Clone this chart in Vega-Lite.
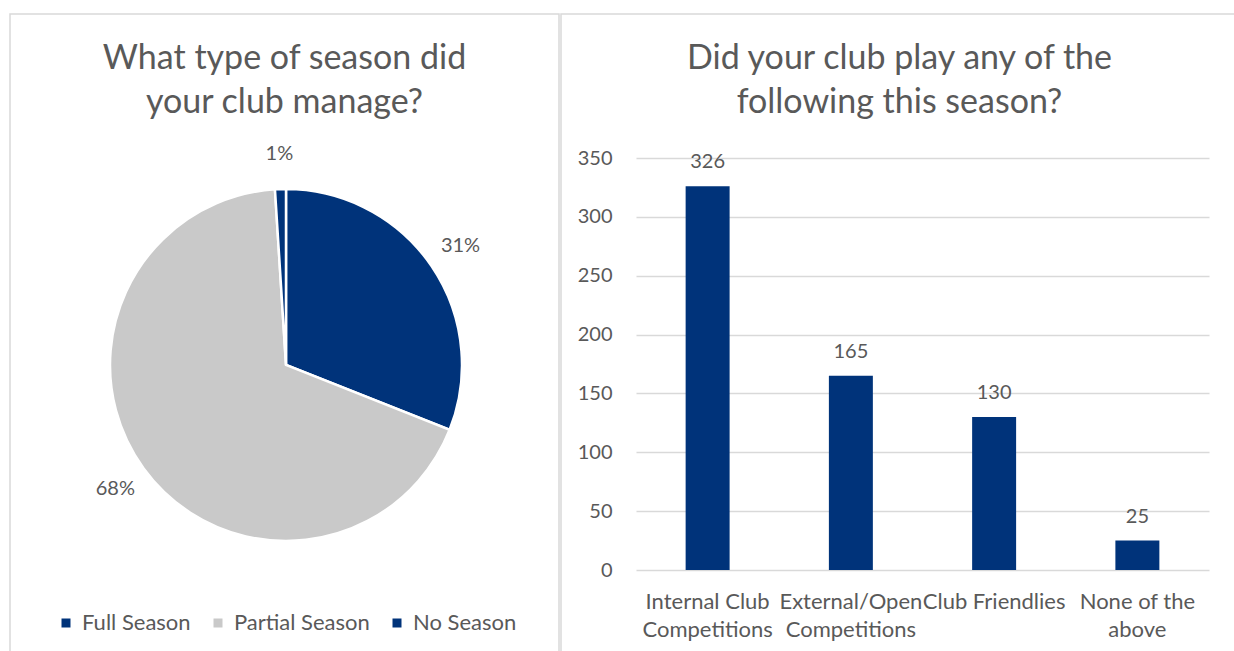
{
  "$schema": "https://vega.github.io/schema/vega-lite/v6.json",
  "background": "white",
  "padding": {"left": 9, "top": 13, "right": 0, "bottom": 0},
  "spacing": 0,
  "config": {
    "font": "Lato",
    "view": {"stroke": "#d9d9d9", "strokeWidth": 1.5},
    "title": {"font": "Lato", "fontSize": 34, "fontWeight": "normal", "color": "#595959", "lineHeight": 44, "anchor": "middle"},
    "axis": {"labelFont": "Lato", "labelFontSize": 20, "labelColor": "#595959"}
  },
  "hconcat": [
    {
      "width": 549,
      "height": 640,
      "view": {"stroke": "#d9d9d9", "strokeWidth": 1.5, "fill": "white"},
      "title": {"text": ["What type of season did", "your club manage?"], "offset": -106},
      "data": {"values": [
        {"season": "Full Season", "share": 0.31, "idx": 1},
        {"season": "Partial Season", "share": 0.68, "idx": 2},
        {"season": "No Season", "share": 0.01, "idx": 3}
      ]},
      "encoding": {
        "theta": {"field": "share", "type": "quantitative", "stack": true},
        "order": {"field": "idx", "type": "quantitative"},
        "color": {
          "field": "season", "type": "nominal",
          "scale": {"domain": ["Full Season", "Partial Season", "No Season"], "range": ["#00337a", "#c9c9c9", "#00337a"]},
          "legend": {"orient": "none", "legendX": 45, "legendY": 598, "direction": "horizontal", "title": null,
                     "symbolType": "square", "symbolSize": 81, "symbolStrokeWidth": 0, "labelFontSize": 22, "labelColor": "#595959",
                     "labelFont": "Lato", "columnPadding": 16, "labelOffset": 5, "padding": 0}
        }
      },
      "layer": [
        {"mark": {"type": "arc", "outerRadius": 176, "stroke": "white", "strokeWidth": 2.5, "xOffset": 1.5, "yOffset": 31}},
        {"mark": {"type": "text", "radius": 211, "fontSize": 20, "font": "Lato", "xOffset": 1.5, "yOffset": 31},
         "encoding": {"text": {"field": "share", "type": "quantitative", "format": ".0%"}, "color": {"value": "#595959"}, "detail": {"field": "season"}}}
      ]
    },
    {
      "width": 677,
      "height": 640,
      "title": {"text": ["Did your club play any of the", "following this season?"], "offset": -106},
      "data": {"values": [
        {"activity": "Internal Club Competitions", "count": 326},
        {"activity": "External/Open Competitions", "count": 165},
        {"activity": "Club Friendlies", "count": 130},
        {"activity": "None of the above", "count": 25}
      ]},
      "encoding": {
        "x": {
          "field": "activity", "type": "nominal", "sort": null,
          "scale": {"range": [75, 648], "paddingInner": 0.693, "paddingOuter": 0.3465},
          "axis": {"title": null, "orient": "bottom", "offset": -63, "labelAngle": 0, "labelPadding": 0, "labelBaseline": "top",
                   "labelFontSize": 22, "labelLineHeight": 28, "ticks": false, "domain": false, "grid": false, "labelOverlap": false, "labelBound": false,
                   "labelExpr": "datum.value == 'Internal Club Competitions' ? ['Internal Club', 'Competitions'] : datum.value == 'External/Open Competitions' ? ['External/Open', 'Competitions'] : datum.value == 'None of the above' ? ['None of the', 'above'] : datum.label"}
        },
        "y": {
          "field": "count", "type": "quantitative",
          "scale": {"domain": [0, 350], "range": [556, 144], "nice": false, "zero": true},
          "axis": {"title": null, "values": [0, 50, 100, 150, 200, 250, 300, 350], "offset": -59, "labelPadding": 8, "ticks": false,
                   "domain": false, "grid": true, "gridColor": "#d9d9d9", "gridWidth": 1.5}
        }
      },
      "layer": [
        {"mark": {"type": "bar", "color": "#00337a"}},
        {"mark": {"type": "text", "dy": -18, "baseline": "alphabetic", "fontSize": 20, "font": "Lato", "color": "#595959"},
         "encoding": {"text": {"field": "count", "type": "quantitative"}}}
      ]
    }
  ]
}
